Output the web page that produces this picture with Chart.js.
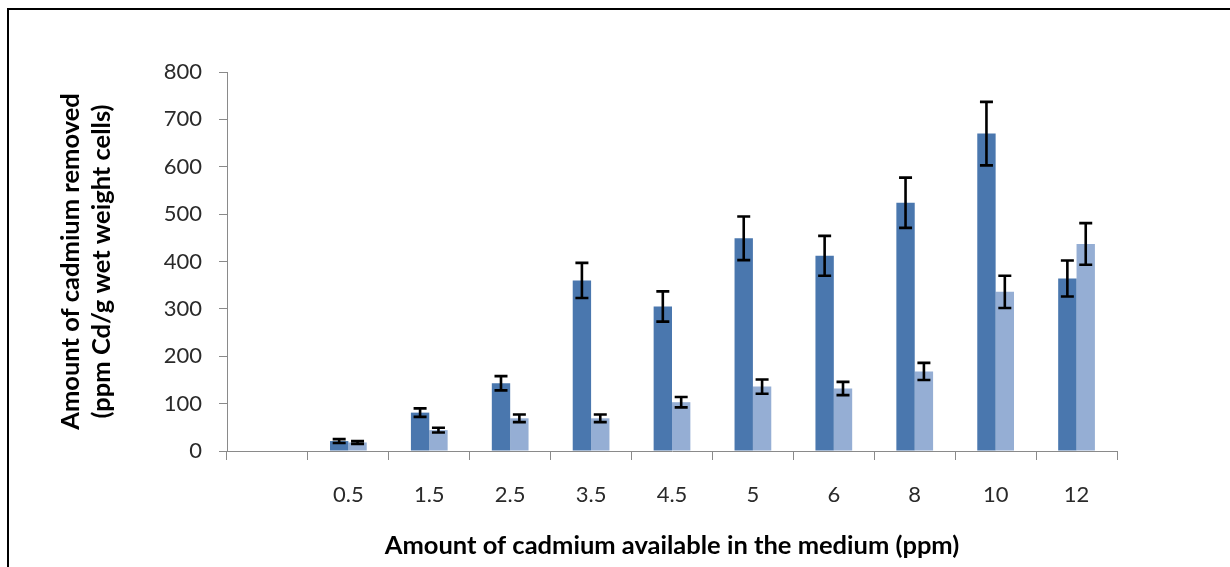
<!DOCTYPE html>
<html>
<head>
<meta charset="utf-8">
<script src="https://cdn.jsdelivr.net/npm/chart.js@4/dist/chart.umd.min.js"></script>
<style>
  html, body { margin: 0; padding: 0; background: #fff; }
  #wrap { position: relative; width: 1230px; height: 567px; overflow: hidden; }
  #frame { position: absolute; left: 7px; top: 8px; right: -10px; bottom: -10px;
           border-top: 2px solid #000; border-left: 2px solid #000; pointer-events: none; }
  canvas { position: absolute; left: 0; top: 0; }
</style>
</head>
<body>
<div id="wrap">
  <canvas id="c" width="1230" height="567"></canvas>
  <div id="frame"></div>
</div>
<script>
// Cadmium concentration in the medium (ppm); the first slot is an empty category
const categories = ['', '0.5', '1.5', '2.5', '3.5', '4.5', '5', '6', '8', '10', '12'];

// Cadmium removed (ppm Cd/g wet weight cells), two series with their error margins
const seriesA = [null, 21, 81, 143, 360, 305, 449, 412, 524, 670, 364];
const seriesAErr = [null, 4, 9, 15, 37, 32, 46, 42, 53, 67, 38];
const seriesB = [null, 18, 44, 69, 69, 103, 136, 132, 168, 336, 437];
const seriesBErr = [null, 3, 5, 8, 8, 11, 15, 14, 18, 34, 44];

const yTicks = [0, 100, 200, 300, 400, 500, 600, 700, 800];

const AXIS_GRAY = '#8a8a8a';
const FONT = 'Lato';

// Draws vertical error bars with caps on every bar
const errorBars = {
  id: 'errorBars',
  afterDatasetsDraw(chart) {
    const ctx = chart.ctx;
    const y = chart.scales.y;
    ctx.save();
    ctx.strokeStyle = '#000';
    ctx.lineWidth = 2.6;
    ctx.lineCap = 'butt';
    chart.data.datasets.forEach((ds, di) => {
      const meta = chart.getDatasetMeta(di);
      meta.data.forEach((bar, i) => {
        const v = ds.data[i];
        const e = ds.errors[i];
        if (v == null || e == null) return;
        const top = y.getPixelForValue(v + e);
        const bot = y.getPixelForValue(v - e);
        const half = 6.5;
        ctx.beginPath();
        ctx.moveTo(bar.x, top); ctx.lineTo(bar.x, bot);
        ctx.moveTo(bar.x - half, top); ctx.lineTo(bar.x + half, top);
        ctx.moveTo(bar.x - half, bot); ctx.lineTo(bar.x + half, bot);
        ctx.stroke();
      });
    });
    ctx.restore();
  }
};

new Chart(document.getElementById('c'), {
  type: 'bar',
  data: {
    labels: categories,
    datasets: [
      { label: 'Series 1', data: seriesA, errors: seriesAErr, backgroundColor: '#4a77ae',
        categoryPercentage: 0.454, barPercentage: 1.0 },
      { label: 'Series 2', data: seriesB, errors: seriesBErr, backgroundColor: '#95aed4',
        categoryPercentage: 0.454, barPercentage: 1.0 }
    ]
  },
  options: {
    responsive: false,
    animation: false,
    devicePixelRatio: 1,
    layout: { padding: { left: 0, top: 72, right: 113, bottom: 0 } },
    plugins: { legend: { display: false }, tooltip: { enabled: false } },
    scales: {
      x: {
        offset: true,
        grid: { offset: true, drawOnChartArea: false, color: AXIS_GRAY, tickLength: 9, lineWidth: 1 },
        border: { color: AXIS_GRAY, width: 1 },
        ticks: { color: '#2a2a2a', font: { family: FONT, size: 22 }, padding: 22, maxRotation: 0, autoSkip: false },
        title: {
          display: true,
          text: 'Amount of cadmium available in the medium (ppm)',
          color: '#000',
          font: { family: FONT, size: 25.5, weight: 'bold', lineHeight: 1.2 },
          padding: { top: 0, bottom: 6 }
        },
        afterFit(scale) { scale.height = 116; }
      },
      y: {
        min: 0, max: 800,
        afterBuildTicks(scale) { scale.ticks = yTicks.map(v => ({ value: v })); },
        grid: { drawOnChartArea: false, color: AXIS_GRAY, tickLength: 8, lineWidth: 1 },
        border: { color: AXIS_GRAY, width: 1 },
        ticks: { color: '#2a2a2a', font: { family: FONT, size: 22 }, padding: 17 },
        title: {
          display: true,
          text: ['Amount of cadmium removed', '(ppm Cd/g wet weight cells)'],
          color: '#000',
          font: { family: FONT, size: 25.5, weight: 'bold', lineHeight: 1.22 },
          padding: { top: 55, bottom: 0 }
        },
        afterFit(scale) { scale.width = 227; }
      }
    }
  },
  plugins: [errorBars]
});
</script>
</body>
</html>
